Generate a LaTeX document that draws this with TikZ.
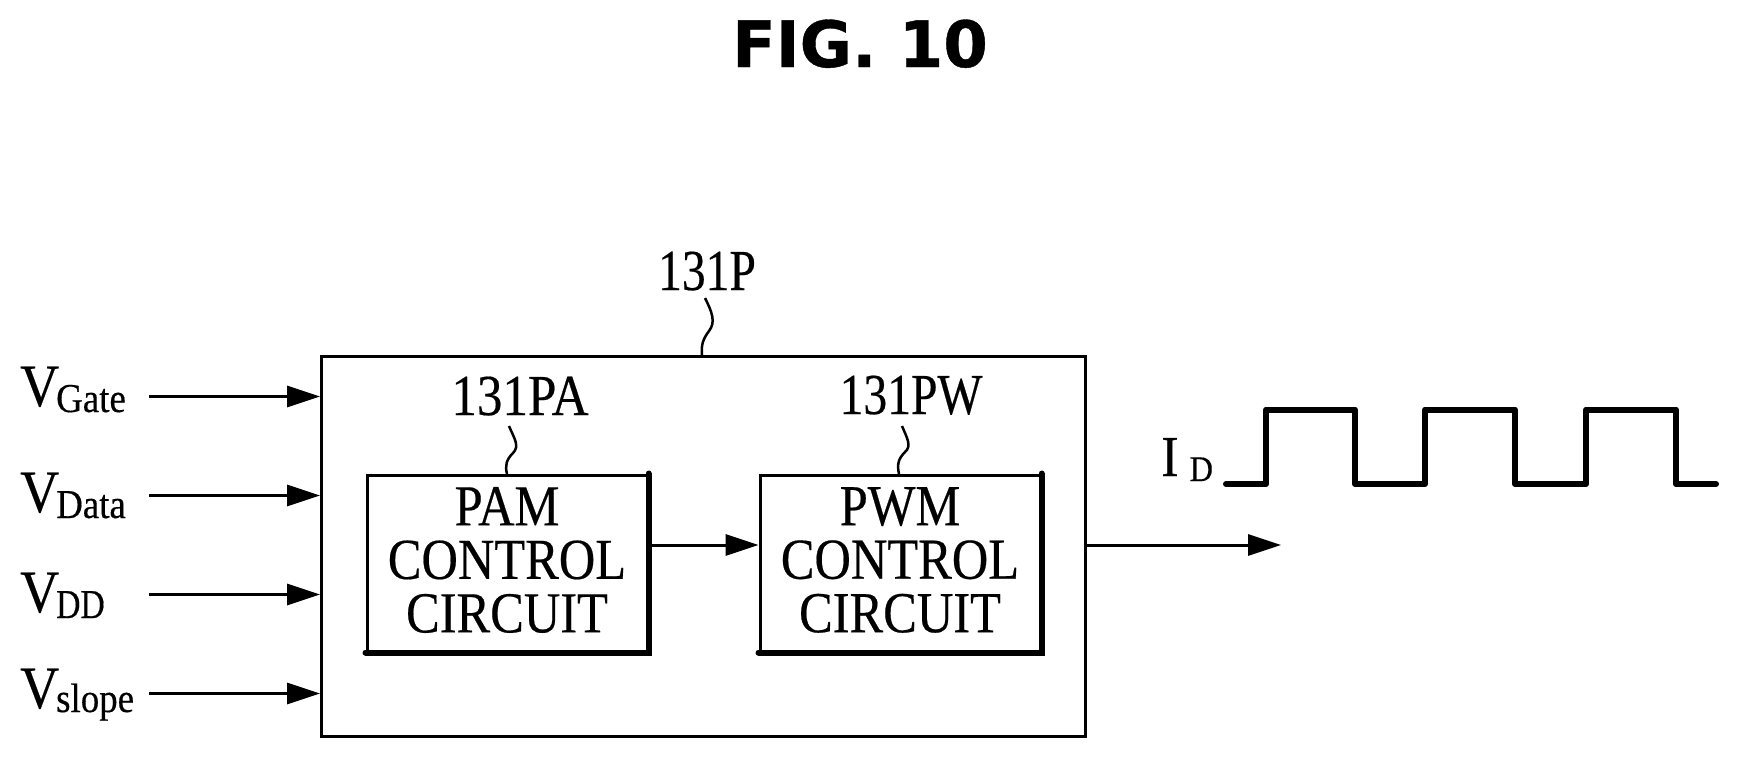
\documentclass[tikz,border=0pt]{standalone}
\usepackage{fontspec}
\usetikzlibrary{arrows.meta,calc}
\setmainfont{Liberation Serif}
\newfontfamily\figfont[FakeBold=0.6]{DejaVu Sans Bold}
\newfontfamily\boxfont[FakeStretch=0.87,FakeBold=0.35]{Liberation Serif}
\newfontfamily\tagfont[FakeStretch=0.82,FakeBold=0.35]{Liberation Serif}
\newfontfamily\tagwidefont[FakeStretch=0.88,FakeBold=0.35]{Liberation Serif}
\newfontfamily\sigfont[FakeStretch=0.9,FakeBold=0.35]{Liberation Serif}
\newfontfamily\ddfont[FakeStretch=0.82,FakeBold=0.35]{Liberation Serif}
\newcommand{\sigwith}[3]{{\fontsize{60}{60}\sigfont #1}\hspace{-3pt}\raisebox{#3}{\fontsize{41}{41}#2}}
\tikzset{
  x=1pt,y=-1pt,
  outerbox/.style={draw,line width=3pt,rectangle,anchor=north west,inner sep=0pt,minimum width=764pt,minimum height=380pt},
  ctrlbox/.style={draw,line width=3pt,rectangle,anchor=north west,inner sep=0pt,minimum width=280pt,minimum height=176pt},
  ctrltext/.style={align=center,inner sep=0pt,font=\fontsize{58}{53.5}\boxfont},
  reftag/.style={anchor=base,inner sep=0pt,font=\fontsize{58}{58}\tagfont},
  signame/.style={anchor=base west,inner sep=0pt},
  sigline/.style={line width=3pt,-{Triangle[length=33pt,width=21pt]}},
  squiggle/.style={line width=2.5pt},
  heavy/.style={line width=6pt,line cap=round},
  wave/.style={line width=6pt,line join=round,line cap=round}
}
\begin{document}
\begin{tikzpicture}
\useasboundingbox (0,0) rectangle (1738,758);
\fill[white] (0,0) rectangle (1738,758);
\node[anchor=base,inner sep=0pt,font=\fontsize{64}{64}\figfont] (fig) at (860,67) {FIG. 10};
% boxes
\node[outerbox] (outer) at (320,355) {};
\node[ctrlbox] (pam) at (365.5,473.5) {};
\node[ctrlbox] (pwm) at (758.5,473.5) {};
\node[ctrltext] (pamtext) at ($(pam.center)+(0,-3)$) {PAM\\CONTROL\\CIRCUIT};
\node[ctrltext] (pwmtext) at ($(pwm.center)+(0,-3)$) {PWM\\CONTROL\\CIRCUIT};
\draw[heavy] (pam.south west) -- (pam.south east) -- (pam.north east);
\draw[heavy] (pwm.south west) -- (pwm.south east) -- (pwm.north east);
% reference tags
\node[reftag] (tagP) at (707,290) {131P};
\node[reftag,font=\fontsize{58}{58}\tagwidefont] (tagPA) at (520,415) {131PA};
\node[reftag] (tagPW) at (911,414) {131PW};
\coordinate (sP) at (705,298);
\coordinate (sPA) at (509,426);
\coordinate (sPW) at (902,426);
\draw[squiggle] (sP) .. controls (712,312) and (716,322) .. (709,331) .. controls (703,339) and (701,345) .. (702,355);
\draw[squiggle] (sPA) .. controls (514,438) and (520,446) .. (513,453) .. controls (506,460) and (505,466) .. (507,474);
\draw[squiggle] (sPW) .. controls (907,438) and (912,446) .. (905,452) .. controls (898,459) and (897,465) .. (899,474);
% inputs
\node[signame] (vgate) at (20,406) {\sigwith{V}{\sigfont Gate}{-6pt}};
\node[signame] (vdata) at (20,512) {\sigwith{V}{\sigfont Data}{-6pt}};
\node[signame] (vdd) at (20,612) {\sigwith{V}{\ddfont DD}{-6pt}};
\node[signame] (vslope) at (20,708) {\sigwith{V}{\sigfont slope}{-4pt}};
\coordinate (i1) at (149,396.5);
\coordinate (i2) at (149,495.5);
\coordinate (i3) at (149,594.5);
\coordinate (i4) at (149,693.5);
\draw[sigline] (i1) -- (i1 -| outer.west);
\draw[sigline] (i2) -- (i2 -| outer.west);
\draw[sigline] (i3) -- (i3 -| outer.west);
\draw[sigline] (i4) -- (i4 -| outer.west);
% internal and output
\coordinate (mid) at (700,545);
\coordinate (out) at (1281,545);
\draw[sigline] (mid -| pam.east) -- (mid -| pwm.west);
\draw[sigline] (out -| outer.east) -- (out);
% current waveform
\node[signame] (id) at (1161,476) {{\fontsize{58}{58}\sigfont I}\hspace{11pt}\raisebox{-5pt}{\fontsize{36}{36}\sigfont D}};
\coordinate (w0) at (1226,484);
\draw[wave] (w0) -- (1266,484) -- (1266,409.5) -- (1355,409.5) -- (1355,484) -- (1425,484) -- (1425,409.5) -- (1515,409.5) -- (1515,484) -- (1586,484) -- (1586,409.5) -- (1676,409.5) -- (1676,484) -- (1716,484);
\end{tikzpicture}
\end{document}
